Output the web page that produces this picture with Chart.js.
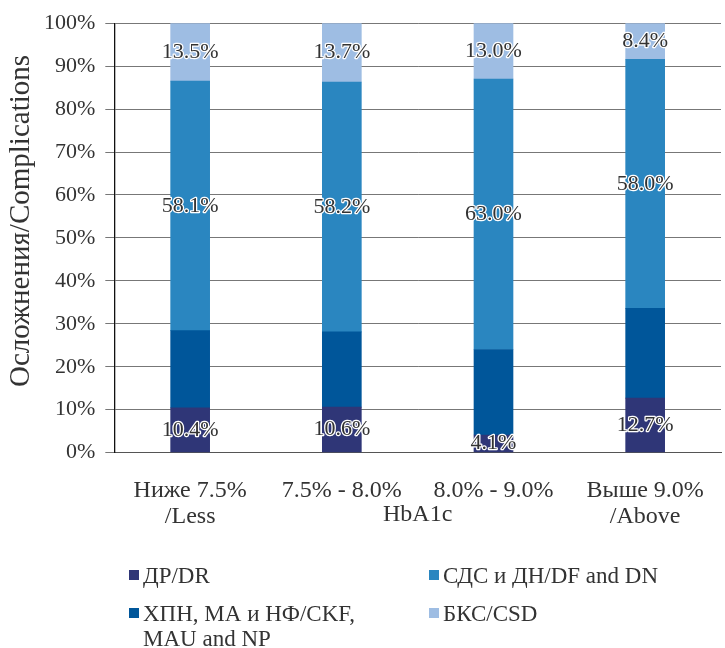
<!DOCTYPE html>
<html>
<head>
<meta charset="utf-8">
<script src="https://cdn.jsdelivr.net/npm/chart.js@4/dist/chart.umd.min.js"></script>
<style>
  html, body { margin: 0; padding: 0; background: #fff; }
  #wrap { position: relative; width: 725px; height: 648px; }
  #chart { position: absolute; left: 0; top: 0; }
  .leg { position: absolute; font-family: "Liberation Serif", serif; font-size: 23px; color: #333; line-height: 25px; white-space: nowrap; }
  .leg i { position: absolute; left: -14px; top: 7px; width: 10px; height: 10px; }
</style>
</head>
<body>
<div id="wrap">
  <canvas id="chart" width="725" height="648"></canvas>
  <div id="legend"></div>
</div>
<script>
const categories = [["Ниже 7.5%", "/Less"], ["7.5% - 8.0%"], ["8.0% - 9.0%"], ["Выше 9.0%", "/Above"]];
const seriesNames = ["ДР/DR", "ХПН, МА и НФ/CKF,\nMAU and NP", "СДС и ДН/DF and DN", "БКС/CSD"];
const drValues = [10.4, 10.6, 4.1, 12.7];
const ckfValues = [18.0, 17.5, 19.9, 20.9];
const sdsValues = [58.1, 58.2, 63.0, 58.0];
const csdValues = [13.5, 13.7, 13.0, 8.4];
const colors = ["#2f3677", "#00569a", "#2a86c0", "#9ebde3"];
const showLabels = [true, false, true, true];

const serif = "'Liberation Serif', 'Times New Roman', serif";
const textColor = "#333333";

const segmentLabels = {
  id: "segmentLabels",
  afterDatasetsDraw(chart) {
    const ctx = chart.ctx;
    ctx.save();
    ctx.font = "22px " + serif;
    ctx.textAlign = "center";
    ctx.textBaseline = "middle";
    ctx.lineJoin = "round";
    chart.data.datasets.forEach((ds, i) => {
      if (!showLabels[i]) return;
      chart.getDatasetMeta(i).data.forEach((bar, j) => {
        const { x, y, base } = bar.getProps(["x", "y", "base"], true);
        const text = ds.data[j].toFixed(1) + "%";
        const cy = (y + base) / 2;
        ctx.lineWidth = 2.5;
        ctx.strokeStyle = "#ffffff";
        ctx.strokeText(text, x, cy);
        ctx.fillStyle = textColor;
        ctx.fillText(text, x, cy);
      });
    });
    ctx.restore();
  },
};

// axis names: y title drawn by hand so it can sit where the reference has it
const axisNames = {
  id: "axisNames",
  afterDraw(chart) {
    const ctx = chart.ctx;
    const area = chart.chartArea;
    ctx.save();
    ctx.fillStyle = textColor;
    ctx.textAlign = "center";
    ctx.textBaseline = "middle";
    ctx.font = "24px " + serif;
    ctx.fillText("HbA1c", (area.left + area.right) / 2, 515);
    ctx.translate(21, 221);
    ctx.rotate(-Math.PI / 2);
    ctx.font = "29px " + serif;
    ctx.fillText("Осложнения/Complications", 0, 0);
    ctx.restore();
  },
};

new Chart(document.getElementById("chart"), {
  type: "bar",
  data: {
    labels: categories,
    datasets: [drValues, ckfValues, sdsValues, csdValues].map((vals, i) => ({
      label: seriesNames[i],
      data: vals,
      backgroundColor: colors[i],
      borderWidth: 0,
      barThickness: 39,
    })),
  },
  options: {
    responsive: false,
    animation: false,
    layout: { padding: { top: 20, right: 4, bottom: 101, left: 34 } },
    plugins: {
      legend: { display: false },
      tooltip: { enabled: false },
    },
    scales: {
      x: {
        stacked: true,
        grid: { display: false },
        border: { display: true, color: "#555" },
        ticks: {
          color: textColor,
          font: { family: serif, size: 24, lineHeight: 1.05 },
          padding: 18,
          maxRotation: 0,
        },
      },
      y: {
        stacked: true,
        min: 0,
        max: 100,
        grid: { color: "#777", lineWidth: 1, tickLength: 9 },
        border: { display: true, color: "#111", width: 1.3 },
        ticks: {
          stepSize: 10,
          color: textColor,
          font: { family: serif, size: 22 },
          padding: 10,
          callback: (v) => v + "%",
        },
      },
    },
  },
  plugins: [segmentLabels, axisNames],
});

// legend in two columns, order as in the reference
const legendItems = [
  { s: 0, left: 143, top: 563 },
  { s: 2, left: 443, top: 563 },
  { s: 1, left: 143, top: 601 },
  { s: 3, left: 443, top: 601 },
];
const legend = document.getElementById("legend");
legendItems.forEach((item) => {
  const el = document.createElement("div");
  el.className = "leg";
  el.style.left = item.left + "px";
  el.style.top = item.top + "px";
  el.innerHTML = `<i style="background:${colors[item.s]}"></i>` + seriesNames[item.s].replace("\n", "<br>");
  legend.appendChild(el);
});
</script>
</body>
</html>
